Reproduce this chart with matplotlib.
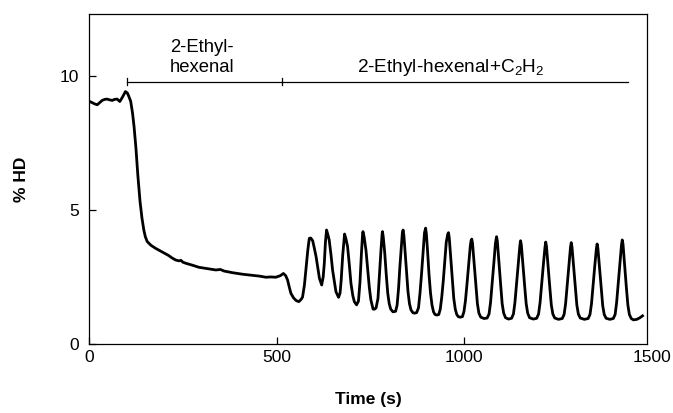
import numpy as np
import matplotlib
matplotlib.use('Agg')
import matplotlib.pyplot as plt

plt.rcParams['font.family'] = ['Liberation Sans', 'DejaVu Sans']
plt.rcParams['mathtext.fontset'] = 'custom'
plt.rcParams['mathtext.rm'] = 'Liberation Sans'
plt.rcParams['mathtext.it'] = 'Liberation Sans:italic'

# HD signal, (time s, % HD)
# before and during 2-ethyl-hexenal alone
baseline_trace = [
    (0, 9.05), (8, 9.0), (15, 8.95), (22, 8.92), (30, 9.02), (35, 9.08), (42, 9.12),
    (48, 9.13), (55, 9.1), (62, 9.08), (68, 9.12), (75, 9.13), (82, 9.04), (89, 9.2),
    (97, 9.41), (102, 9.36), (106, 9.23), (111, 9.05), (116, 8.6), (120, 8.1),
    (125, 7.3), (130, 6.3), (136, 5.3), (141, 4.7), (146, 4.25), (150, 4.0),
    (155, 3.82), (165, 3.68), (177, 3.57), (190, 3.47), (204, 3.36), (212, 3.3),
    (220, 3.22), (231, 3.13), (240, 3.1), (245, 3.12), (250, 3.05), (258, 3.01),
    (275, 2.94), (293, 2.86), (315, 2.81), (338, 2.76), (350, 2.78), (360, 2.72),
    (382, 2.66), (410, 2.6), (436, 2.56), (455, 2.53), (471, 2.49), (485, 2.5),
    (498, 2.49), (510, 2.55), (518, 2.63), (524, 2.55), (529, 2.39),
]
# after adding C2H2: oscillations
oscillation_trace = [
    (534, 2.1), (538, 1.89), (545, 1.72), (552, 1.62), (559, 1.58), (565, 1.66),
    (569, 1.75), (574, 2.2), (578, 2.76), (583, 3.5), (587, 3.94), (591, 3.95),
    (596, 3.85), (600, 3.6), (605, 3.26), (610, 2.8), (614, 2.45), (620, 2.2),
    (624, 2.5), (627, 3.01), (630, 3.8), (633, 4.25), (636, 4.1), (640, 3.88),
    (645, 3.3), (649, 2.76), (654, 2.3), (658, 1.95), (665, 1.74), (669, 1.9),
    (672, 2.39), (676, 3.3), (681, 4.1), (685, 3.9), (689, 3.63), (694, 2.9),
    (698, 2.26), (703, 1.8), (707, 1.58), (713, 1.46), (718, 1.6), (722, 2.3),
    (726, 3.4), (729, 4.1), (730, 4.19), (733, 4.0), (738, 3.5), (743, 2.7),
    (747, 2.1), (751, 1.65), (757, 1.3), (761, 1.3),
    (765, 1.35), (770, 1.7), (774, 2.6), (778, 3.5), (781, 4.1), (782, 4.19),
    (784, 4.0), (788, 3.4), (792, 2.6), (796, 1.9), (800, 1.5), (804, 1.3), (810, 1.2),
    (817, 1.22), (821, 1.45), (825, 2.1), (828, 2.8), (832, 3.6), (835, 4.15),
    (837, 4.25), (839, 4.05), (842, 3.5), (846, 2.7), (850, 1.95), (854, 1.5),
    (858, 1.27), (863, 1.17), (867, 1.15),
    (873, 1.17), (878, 1.35), (882, 1.9), (886, 2.6), (890, 3.4), (894, 4.15),
    (897, 4.32), (899, 4.1), (902, 3.5), (906, 2.6), (910, 1.9), (914, 1.45),
    (918, 1.2), (922, 1.1), (927, 1.08),
    (932, 1.1), (936, 1.3), (940, 1.75), (944, 2.35), (948, 3.1), (952, 3.8),
    (956, 4.1), (958, 4.15), (960, 3.95), (964, 3.2), (968, 2.4), (972, 1.7),
    (976, 1.3), (980, 1.1), (984, 1.02), (989, 1.0),
    (995, 1.02), (999, 1.2), (1003, 1.6), (1007, 2.2), (1012, 3.0), (1016, 3.65),
    (1018, 3.85), (1020, 3.91), (1022, 3.75), (1026, 3.05), (1031, 2.15),
    (1035, 1.5), (1039, 1.15), (1044, 1.0), (1053, 0.95),
    (1061, 0.97), (1066, 1.12), (1070, 1.55), (1074, 2.2), (1079, 3.05),
    (1083, 3.75), (1086, 4.0), (1088, 3.85), (1092, 3.1), (1097, 2.2),
    (1101, 1.5), (1105, 1.15), (1110, 0.98), (1118, 0.93),
    (1126, 0.96), (1131, 1.12), (1135, 1.55), (1139, 2.2), (1144, 3.0),
    (1148, 3.65), (1150, 3.85), (1152, 3.7), (1156, 3.0), (1161, 2.15),
    (1165, 1.5), (1169, 1.15), (1174, 0.98), (1184, 0.93),
    (1193, 0.96), (1198, 1.12), (1202, 1.55), (1206, 2.2), (1211, 3.0),
    (1215, 3.6), (1217, 3.8), (1219, 3.65), (1223, 2.95), (1228, 2.1),
    (1232, 1.45), (1236, 1.12), (1241, 0.97), (1251, 0.92),
    (1261, 0.95), (1266, 1.1), (1270, 1.5), (1274, 2.15), (1279, 2.95),
    (1283, 3.6), (1285, 3.78), (1287, 3.62), (1291, 2.95), (1296, 2.1),
    (1300, 1.45), (1304, 1.12), (1309, 0.97), (1320, 0.92),
    (1330, 0.95), (1335, 1.1), (1339, 1.5), (1343, 2.15), (1348, 2.95),
    (1352, 3.55), (1354, 3.73), (1356, 3.58), (1360, 2.9), (1365, 2.05),
    (1369, 1.42), (1373, 1.1), (1378, 0.96), (1388, 0.92),
    (1397, 0.95), (1402, 1.1), (1406, 1.55), (1410, 2.2), (1415, 3.05),
    (1419, 3.7), (1421, 3.88), (1423, 3.72), (1427, 3.0), (1432, 2.1),
    (1436, 1.45), (1440, 1.1), (1445, 0.95), (1451, 0.9), (1460, 0.92),
    (1468, 0.98), (1475, 1.05),
]

# treatment bar: start, switch, end (s) and its level (% HD)
bar_start, bar_switch, bar_end = 100, 515, 1435
bar_level = 9.78

time, hd = zip(*(baseline_trace + oscillation_trace))

fig = plt.figure(figsize=(6.73, 4.13), dpi=100)
ax = fig.add_axes([0.1323, 0.167, 0.8291, 0.799])

ax.plot(time, hd, color='black', lw=2.0, solid_joinstyle='round')

# treatment bar with small marks
ax.plot([bar_start, bar_end], [bar_level, bar_level], color='black', lw=0.9)
for xm in (bar_start, bar_switch):
    ax.plot([xm, xm], [bar_level - 0.12, bar_level + 0.12], color='black', lw=0.9)

ax.text(215, 10.88, '2-Ethyl-', fontsize=13.3, ha='left', va='baseline')
ax.text(215, 10.14, 'hexenal', fontsize=13.3, ha='left', va='baseline')
ax.text(713, 10.14, '2-Ethyl-hexenal+C$_2$H$_2$', fontsize=13.7, ha='left', va='baseline')

ax.set_xlim(0, 1487)
ax.set_ylim(0, 12.3)
ax.set_xticks([0, 500, 1000])
ax.set_yticks([0, 5, 10])
ax.tick_params(direction='in', length=5, width=0.9, labelsize=12.5)
ax.tick_params(axis='x', pad=4)
ax.tick_params(axis='y', pad=7)
ax.annotate('1500', xy=(1500, 0), xycoords=('data', 'axes fraction'),
            xytext=(0, -4), textcoords='offset points', ha='center', va='top',
            fontsize=12.5, annotation_clip=False)

for s in ax.spines.values():
    s.set_linewidth(0.9)

ax.set_xlabel('Time (s)', fontsize=12.5, fontweight='bold', labelpad=20)
ax.set_ylabel('% HD', fontsize=12.5, fontweight='bold', labelpad=22)

fig.savefig('out.png', dpi=100)
